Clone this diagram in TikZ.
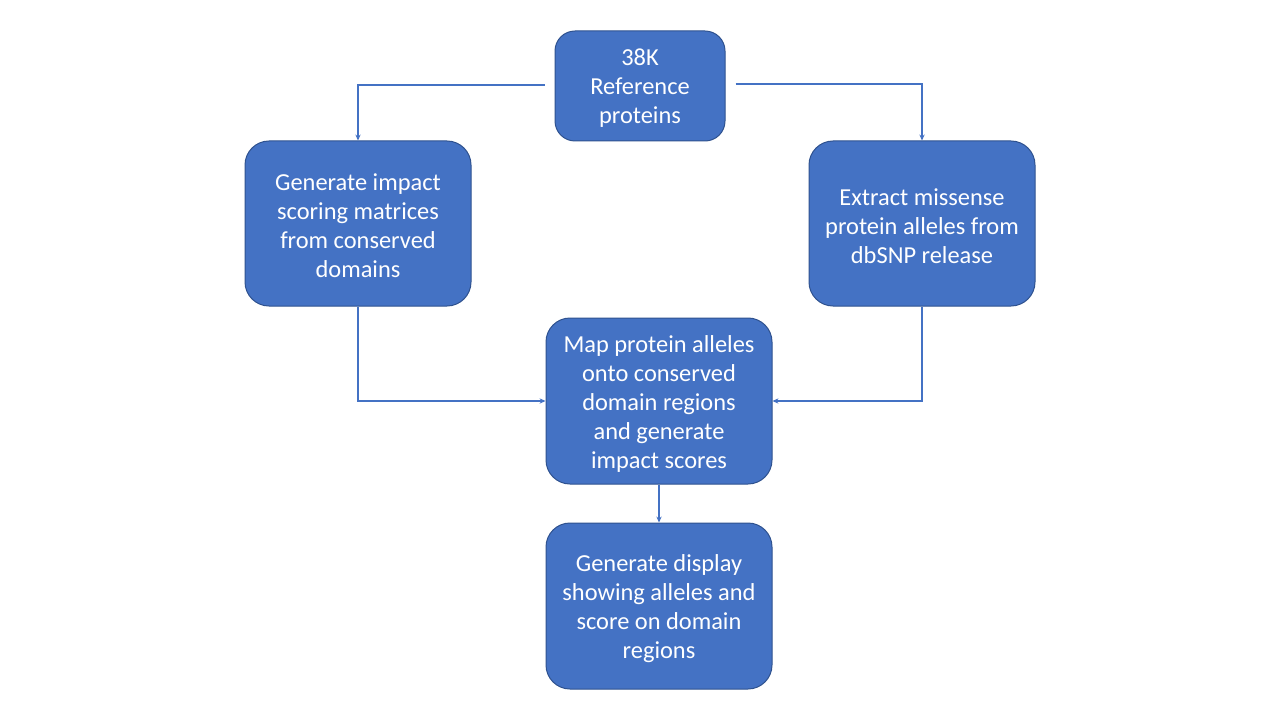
\documentclass[tikz,border=0pt]{standalone}
\usepackage{fontspec}
\setmainfont{Carlito}
\usetikzlibrary{arrows.meta}
\definecolor{boxfill}{HTML}{4472C4}
\definecolor{boxline}{HTML}{2F528F}
\begin{document}
\begin{tikzpicture}[x=0.75pt,y=-0.75pt,
  box/.style={draw=boxline, line width=0.75pt, fill=boxfill, text=white, rounded corners=18pt,
    align=center, font=\fontsize{18.3}{21.75}\selectfont, inner sep=0pt},
  lbl/.style={text=white, align=center, font=\fontsize{18.3}{21.75}\selectfont, inner sep=0pt},
  conn/.style={draw=boxfill, line width=0.8pt, -{Stealth[length=4.5pt,width=4pt]}}]
\useasboundingbox[fill=white] (0,0) rectangle (1280,720);
\node[box, rounded corners=15pt, minimum width=170*0.75pt, minimum height=110*0.75pt] (top) at (640,86) {};
\node[lbl] (toplbl) at (640,88) {38K\\Reference\\proteins};
\node[box, minimum width=226*0.75pt, minimum height=165*0.75pt] (left) at (358,223.5) {};
\node[lbl] (leftlbl) at (358,226) {Generate impact\\scoring matrices\\from conserved\\domains};
\node[box, minimum width=226*0.75pt, minimum height=165*0.75pt] (right) at (922,223.5) {};
\node[lbl] (rightlbl) at (922,226) {Extract missense\\protein alleles from\\dbSNP release};
\node[box, minimum width=226*0.75pt, minimum height=166*0.75pt] (mid) at (659,401) {};
\node[lbl] (midlbl) at (659,403.5) {Map protein alleles\\onto conserved\\domain regions\\and generate\\impact scores};
\node[box, minimum width=226*0.75pt, minimum height=166*0.75pt] (bot) at (659,606) {};
\node[lbl] (botlbl) at (659,608.5) {Generate display\\showing alleles and\\score on domain\\regions};
\draw[conn] ([shift={(-10,-1)}]top.west) -| (left.north);
\draw[conn] ([shift={(10,-2)}]top.east) -| (right.north);
\draw[conn] (left.south) |- (mid.west);
\draw[conn] (right.south) |- (mid.east);
\draw[conn] (mid.south) -- (bot.north);
\end{tikzpicture}
\end{document}
